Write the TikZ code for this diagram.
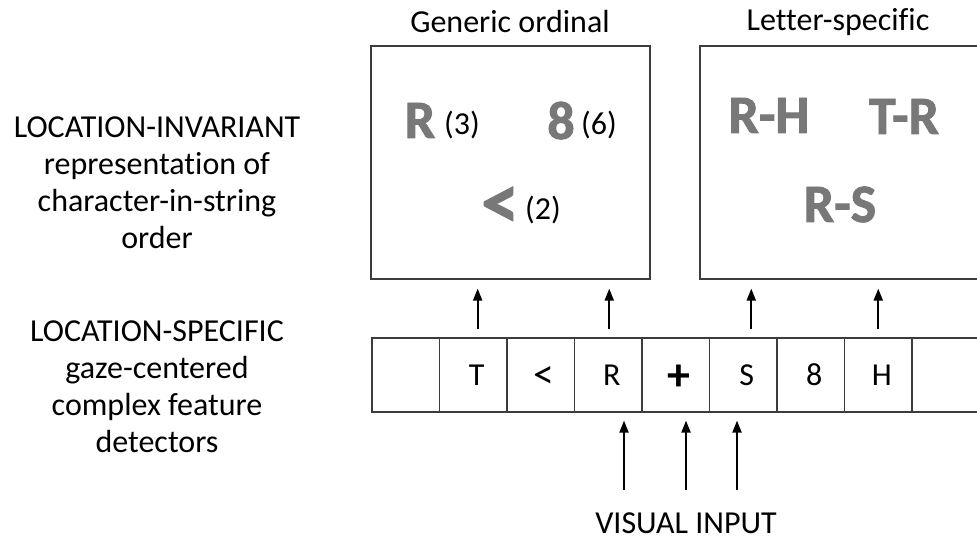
\documentclass[tikz,border=0pt]{standalone}
\usepackage{fontspec}
\setmainfont{Carlito}[Ligatures={NoCommon,NoContextual}]
\newfontfamily\heavy{Carlito Bold}[FakeBold=1.6,Ligatures={NoCommon,NoContextual}]
\usetikzlibrary{arrows.meta}
\definecolor{glyph}{RGB}{120,120,120}
\definecolor{frame}{RGB}{60,60,60}
\begin{document}
\begin{tikzpicture}[x=.5pt,y=-.5pt,every node/.style={font=\fontsize{16}{18.5}\selectfont},
	cell/.style={draw=frame,line width=.6pt,inner sep=0,minimum width=33.75pt,minimum height=37pt,text height=10.3pt,text depth=0pt,execute at begin node=\hspace*{3.5pt}},
	panel/.style={draw=frame,line width=.6pt,inner sep=0,minimum height=116.5pt},
	big/.style={anchor=base,text=glyph,font=\fontsize{27}{30}\selectfont\heavy},
	num/.style={anchor=base},
	arr/.style={-{Triangle[length=6pt,width=4.5pt]},line width=1pt}]
		\useasboundingbox(0,0)rectangle(977,539);
		\coordinate(i1)at(624,490);
		\coordinate(i2)at(686,490);
		\coordinate(i3)at(737,490);
		% panels
		\node[panel,minimum width=139.5pt](gen)at(510.5,162.5){};
		\node[panel,minimum width=145pt](spec)at(845,162.5){};
		\node(gtitle)at(510,22){Generic ordinal};
		\node(stitle)at(838,22){Letter-specific};
		\node[big](r)at(420,138){R};
		\node[num](r3)at(462,135){(3)};
		\node[big](e)at(561,139){8};
		\node[num](e6)at(599,135){(6)};
		\node[big,font=\fontsize{38}{40}\selectfont\heavy](lt)at(500,228){<};
		\node[num](lt2)at(543,220){(2)};
		\node[big](rh)at(769,133){R-H};
		\node[big](tr)at(904,134){T-R};
		\node[big](rs)at(840,222){R-S};
		% cells
		\foreach\l[count=\i from 0]in{{},T,{\raisebox{-1.8pt}{\fontsize{21}{21}\selectfont<}},R,{\raisebox{-2.4pt}{\fontsize{23}{23}\selectfont\bfseries+}},S,8,H,{}}{\node[cell](c\i)at({405.75+67.5*\i},375){\l};}
		\foreach\c/\p/\s in{c1/gen/2.2,c3/gen/.5,c5/spec/4,c7/spec/0}{\draw[arr,shorten <=4pt,shorten >=4.5pt]([xshift=\s pt]\c.north)--([xshift=\s pt]\c.north|-\p.south);}
		\foreach\i in{i1,i2,i3}{\draw[arr,shorten >=4pt](\i)--(\i|-c4.south);}
		\node[anchor=base,inner sep=0](vis)at(686,533){VISUAL INPUT};
		% left labels
		\node[align=center](inv)at(157,183){LOCATION-INVARIANT\\representation of\\character-in-string\\order};
		\node[align=center](spc)at(157,387){LOCATION-SPECIFIC\\gaze-centered\\complex feature\\detectors};
		\end{tikzpicture}
\end{document}
